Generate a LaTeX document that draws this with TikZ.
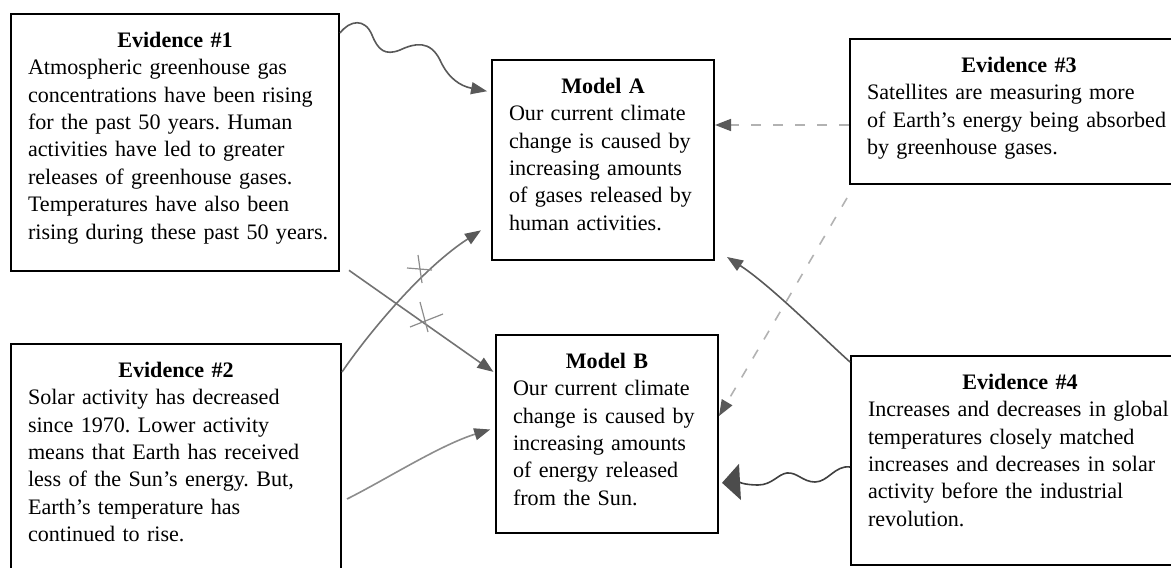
\documentclass[tikz,border=0pt]{standalone}
\usepackage{fontspec}
\setmainfont{Liberation Serif}
\usetikzlibrary{arrows.meta}
\frenchspacing
\hyphenpenalty=10000
\exhyphenpenalty=10000
\hfuzz=20pt

% centred bold heading over the left aligned lines
\newcommand{\cardtitle}[1]{{\centering\textbf{#1}\par}}

\begin{document}
\begin{tikzpicture}[x=0.5pt, y=-0.5pt, >={Triangle[length=8pt,width=6pt,color=black!65]},
	card/.style={draw, line width=1pt, anchor=north west, align=left, inner xsep=8.5pt, inner ysep=9pt, font=\fontsize{11.05}{13.7}\selectfont},
	pencil/.style={draw=black!55, line width=0.8pt, ->},
	faint/.style={draw=black!30, line width=0.8pt, dash pattern=on 5pt off 6pt, ->},
	crossmark/.style={draw=black!45, line width=0.6pt}]
	\useasboundingbox (0,0) rectangle (1171,567);
	\clip (0,0) rectangle (1171,567);
	% evidence and model boxes
	\node[card, text width=147pt, text depth=103pt] (ev1) at (10,13) {\cardtitle{Evidence \#1}Atmospheric greenhouse gas\\ concentrations have been rising\\ for the past 50 years. Human\\ activities have led to greater\\ releases of greenhouse gases.\\ Temperatures have also been\\ \mbox{rising during these past 50 years.}};
	\node[card, text width=148pt, text depth=100pt] (ev2) at (10,343) {\cardtitle{Evidence \#2}Solar activity has decreased\\ since 1970. Lower activity\\ means that Earth has received\\ less of the Sun’s energy. But,\\ Earth’s temperature has\\ continued to rise.};
	\node[card, text width=94pt, text depth=74.5pt] (mA) at (491,59) {\cardtitle{Model A}Our current climate\\ change is caused by\\ increasing amounts\\ of gases released by\\ human activities.};
	\node[card, text width=94pt, text depth=73.5pt] (mB) at (495,334) {\cardtitle{Model B}Our current climate\\ change is caused by\\ increasing amounts\\ of energy released\\ from the Sun.};
	\node[card, text width=152pt, text depth=47pt] (ev3) at (849,38) {\cardtitle{Evidence \#3}Satellites are measuring more\\ of Earth’s energy being absorbed\\ by greenhouse gases.};
	\node[card, text width=152pt, text depth=79pt] (ev4) at (850,355) {\cardtitle{Evidence \#4}Increases and decreases in global\\ temperatures closely matched\\ increases and decreases in solar\\ activity before the industrial\\ revolution.};
	% evidence 1 and 2, hand drawn links
	\draw[pencil, draw=black!65, shorten >=2pt] ([yshift=-10pt]ev1.north east) .. controls (350,20) and (365,18) .. (372,35) .. controls (378,50) and (385,56) .. (400,50) .. controls (415,43) and (430,40) .. (440,60) .. controls (448,78) and (460,86) .. ([yshift=-16.5pt]mA.north west);
	\draw[pencil, shorten >=1pt] ([xshift=4.5pt,yshift=1pt]ev1.south east) -- ([yshift=-19.5pt]mB.north west);
	\draw[pencil] ([yshift=-14.5pt]ev2.north east) .. controls (365,338) and (420,270) .. ([xshift=-5pt,yshift=15.5pt]mA.south west);
	\draw[pencil, draw=black!45, shorten >=2.5pt] ([xshift=2.5pt,yshift=-78pt]ev2.north east) .. controls (385,480) and (440,445) .. ([yshift=-47pt]mB.north west);
	% crossed out links
	\draw[crossmark] (418,255) -- (422,283) (407,268) -- (432,270);
	\draw[crossmark] (420,302) -- (428,332) (410,327) -- (443,314);
	% evidence 3, dashed links
	\coordinate (ev3out) at ([yshift=-43.5pt]ev3.north west);
	\draw[faint] (ev3out) -- (ev3out -| mA.east);
	\draw[faint] ([xshift=-1pt,yshift=-80pt]ev3.north west) -- ([yshift=-41pt]mB.north east);
	% evidence 4
	\draw[pencil, draw=black!65] ([yshift=-3.5pt]ev4.north west) .. controls (820,335) and (770,285) .. ([xshift=6pt,yshift=-99pt]mA.north east);
	\draw[pencil, draw=black!75, -{Triangle[length=9pt,width=18pt,color=black!70]}, shorten >=1.5pt] ([yshift=-56pt]ev4.north west) .. controls (835,465) and (828,482) .. (815,482) .. controls (803,482) and (797,472) .. (787,473) .. controls (778,474) and (772,485) .. (758,485) .. controls (745,485) and (738,482) .. ([yshift=-74.5pt]mB.north east);
\end{tikzpicture}
\end{document}
